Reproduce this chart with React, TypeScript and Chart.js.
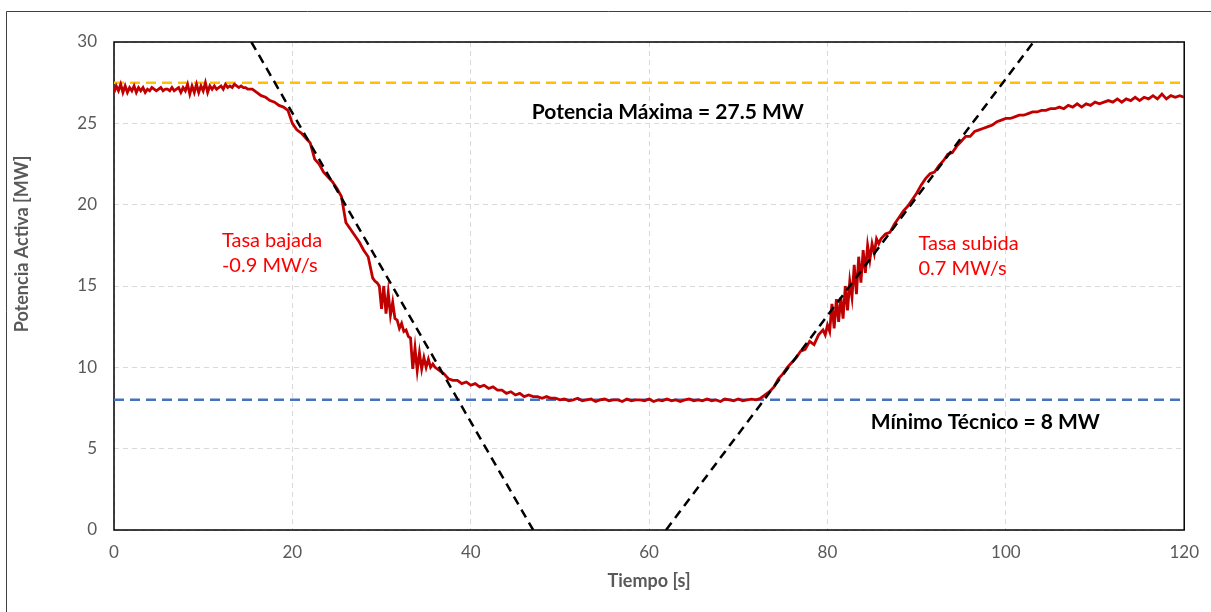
import React, { useEffect, useRef } from "react";
import { Chart, registerables } from "chart.js";

Chart.register(...registerables);

// ---- Data: active power [MW], in segments of uniform sampling ----
// Each segment: start time [s], sampling step [s], values [MW]
const SEG_START_NOISE = {
  start: 0,
  step: 0.25,
  values: [
    26.9, 27.3, 27.0, 27.4, 26.9, 27.3, 26.9, 27.2, 27.0, 27.3, 26.9, 27.2, // 0-2.75
    27.0, 27.2, 26.9, 27.1, 27.0, 27.2, 27.1, 27.0, 27.1, 27.2, 27.0, 27.1, // 3-5.75
    27.1, 27.0, 27.2, 27.0, 27.1, 27.2, 26.9, 27.2, 27.0, 27.4, 26.8, 27.3, // 6-8.75
    26.9, 27.4, 26.9, 27.3, 27.0, 27.5, 26.9, 27.3, 27.1, 27.3, 27.1, 27.2, // 9-11.75
    27.3, 27.1, 27.4, 27.2, 27.3, 27.2, 27.4, 27.3, 27.2, 27.3, 27.2, 27.2, // 12-14.75
  ],
};
const SEG_RAMP_DOWN = {
  start: 15,
  step: 0.5,
  values: [
    27.1, 27.1, 26.9, 26.7, 26.6, 26.4, 26.3, 26.1, 26.0, 25.8, // 15-19.5
    25.0, 24.6, 24.4, 24.1, 23.8, 22.8, 22.5, 22.0, 21.7, 21.4, // 20-24.5
    21.0, 20.5, 18.9, 18.5, 18.1, 17.7, 17.2, 16.8, 15.5, // 25-29
  ],
};
const SEG_DOWN_OSC = {
  start: 29.25,
  step: 0.25,
  values: [
    15.3, 15.2, 15.0, 13.6, 15.0, 13.3, 14.6, 13.2, 14.0, 13.0, 12.9, 12.4, // 29.25-32
    12.7, 12.2, 12.3, 11.9, 11.8, 9.9, 11.2, 9.8, 10.9, 9.9, 10.6, 10.0, // 32.25-35
    10.5, 10.0, 10.2, // 35.25-35.75
  ],
};
const SEG_VALLEY = {
  start: 36,
  step: 0.5,
  values: [
    10.0, 9.8, 9.6, 9.3, 9.2, 9.2, 9.0, 9.1, // 36-39.5
    8.9, 9.0, 8.8, 8.9, 8.7, 8.8, 8.6, 8.6, 8.4, 8.5, // 40-44.5
    8.3, 8.4, 8.2, 8.3, 8.2, 8.2, 8.1, 8.2, 8.1, 8.1, // 45-49.5
    8.0, 8.05, 7.95, 8.0, 8.1, 7.95, 8.0, 8.05, 7.9, 8.0, // 50-54.5
    8.05, 7.95, 8.0, 8.0, 7.9, 8.05, 7.95, 8.0, 8.0, 7.95, // 55-59.5
    8.05, 7.9, 8.0, 7.95, 8.05, 7.95, 8.0, 7.9, 8.0, 8.05, // 60-64.5
    7.95, 8.0, 7.95, 8.05, 7.95, 8.0, 7.9, 8.05, 8.0, 7.95, // 65-69.5
    8.05, 7.95, 8.0, 8.05, 8.0, 8.1, 8.3, 8.5, 8.8, 9.3, // 70-74.5
    9.6, 10.0, 10.3, 10.6, 11.0, 11.1, 11.6, 11.4, 12.0, 12.3, // 75-79.5
  ],
};
const SEG_UP_OSC = {
  start: 79.75,
  step: 0.25,
  values: [
    12.0, 12.6, 12.2, 13.9, 12.4, 14.2, 12.8, 14.3, 13.0, 15.0, 13.5, 15.3, // 79.75-82.5
    14.3, 16.3, 14.5, 16.8, 15.2, 17.2, 15.8, 17.5, 16.6, 17.6, 17.0, 17.9, // 82.75-85.5
    17.6, 17.9, // 85.75-86
  ],
};
const SEG_RECOVERY = {
  start: 86.5,
  step: 0.5,
  values: [
    18.2, 18.3, 18.8, 19.2, 19.6, 19.9, 20.3, // 86.5-89.5
    20.7, 21.2, 21.6, 21.9, 22.0, 22.4, 22.7, 23.1, 23.2, 23.6, // 90-94.5
    23.9, 24.2, 24.2, 24.5, 24.6, 24.7, 24.8, 24.9, 25.1, 25.2, // 95-99.5
    25.3, 25.3, 25.4, 25.5, 25.5, 25.6, 25.7, 25.7, 25.8, 25.8, // 100-104.5
    25.9, 25.9, 26.0, 25.9, 26.1, 26.0, 26.2, 26.0, 26.2, 26.1, // 105-109.5
    26.3, 26.2, 26.3, 26.4, 26.3, 26.5, 26.3, 26.5, 26.4, 26.6, // 110-114.5
    26.4, 26.6, 26.5, 26.7, 26.5, 26.8, 26.5, 26.7, 26.6, 26.7, // 115-119.5
    26.6, // 120
  ],
};
const POWER_SEGMENTS = [SEG_START_NOISE, SEG_RAMP_DOWN, SEG_DOWN_OSC, SEG_VALLEY, SEG_UP_OSC, SEG_RECOVERY];

const MAX_POWER = 27.5;
const MIN_TECH = 8;
const RANGE_X = [0, 120];

// Ramp reference lines (two end points each)
const RAMP_DOWN_X = [15.4, 47.0];
const RAMP_DOWN_Y = [30, 0];
const RAMP_UP_X = [61.9, 103.1];
const RAMP_UP_Y = [0, 30];

const X_MIN = 0, X_MAX = 120, X_STEP = 20;
const Y_MIN = 0, Y_MAX = 30, Y_STEP = 5;

const X_TITLE = "Tiempo [s]";
const Y_TITLE = "Potencia Activa [MW]";

// Annotation texts anchored in data coordinates
const LABEL_MAX = { text: ["Potencia Máxima = 27.5 MW"], x: 62.1, y: 25.7 };
const LABEL_MIN = { text: ["Mínimo Técnico = 8 MW"], x: 97.7, y: 6.6 };
const LABEL_DOWN = { text: ["Tasa bajada", "-0.9 MW/s"], x: 12.1, y: 17.8 };
const LABEL_UP = { text: ["Tasa subida", "0.7 MW/s"], x: 90.2, y: 17.6 };

const FONT = "Lato, 'Open Sans', sans-serif";

export default function App() {
  const ref = useRef<HTMLCanvasElement | null>(null);

  useEffect(() => {
    const canvas = ref.current;
    if (!canvas) return;

    const powerPts: { x: number; y: number }[] = [];
    POWER_SEGMENTS.forEach((seg) =>
      seg.values.forEach((v, i) => powerPts.push({ x: seg.start + i * seg.step, y: v }))
    );
    const maxPts = RANGE_X.map((x) => ({ x, y: MAX_POWER }));
    const minPts = RANGE_X.map((x) => ({ x, y: MIN_TECH }));
    const downPts = RAMP_DOWN_X.map((x, i) => ({ x, y: RAMP_DOWN_Y[i] }));
    const upPts = RAMP_UP_X.map((x, i) => ({ x, y: RAMP_UP_Y[i] }));

    const framePlugin = {
      id: "frame",
      beforeDraw(chart: any) {
        const ctx = chart.ctx;
        ctx.save();
        ctx.strokeStyle = "#3f3f3f";
        ctx.lineWidth = 1;
        ctx.beginPath();
        ctx.moveTo(6.5, 612);
        ctx.lineTo(6.5, 11.5);
        ctx.lineTo(1211, 11.5);
        ctx.stroke();
        ctx.restore();
      },
      beforeDatasetsDraw(chart: any) {
        const { ctx, chartArea: a } = chart;
        ctx.save();
        ctx.strokeStyle = "#000000";
        ctx.lineWidth = 1.5;
        ctx.strokeRect(a.left, a.top, a.right - a.left, a.bottom - a.top);
        ctx.restore();
      },
      afterDraw(chart: any) {
        const { ctx, chartArea: a, scales } = chart;
        const xs = scales.x, ys = scales.y;
        ctx.save();
        // axis titles
        ctx.fillStyle = "#595959";
        ctx.font = `bold 18px ${FONT}`;
        ctx.textAlign = "center";
        ctx.textBaseline = "middle";
        ctx.fillText(X_TITLE, (a.left + a.right) / 2, 581);
        ctx.save();
        ctx.translate(22, 244);
        ctx.rotate(-Math.PI / 2);
        ctx.fillText(Y_TITLE, 0, 0);
        ctx.restore();

        const draw = (lbl: any, font: string, color: string, align: CanvasTextAlign, lh: number) => {
          ctx.font = font;
          ctx.fillStyle = color;
          ctx.textAlign = align;
          ctx.textBaseline = "middle";
          const px = xs.getPixelForValue(lbl.x);
          const py = ys.getPixelForValue(lbl.y);
          lbl.text.forEach((t: string, i: number) => ctx.fillText(t, px, py + i * lh));
        };
        draw(LABEL_MAX, `bold 21px ${FONT}`, "#000000", "center", 25);
        draw(LABEL_MIN, `bold 21px ${FONT}`, "#000000", "center", 25);
        draw(LABEL_DOWN, `20px ${FONT}`, "#FF0000", "left", 25);
        draw(LABEL_UP, `20px ${FONT}`, "#FF0000", "left", 25);
        ctx.restore();
      },
    };

    const chart = new Chart(canvas, {
      type: "line",
      data: {
        datasets: [
          {
            label: "Rampa bajada",
            data: downPts,
            borderColor: "#000000",
            borderWidth: 2.5,
            borderDash: [9, 6],
            pointRadius: 0,
            tension: 0,
          },
          {
            label: "Rampa subida",
            data: upPts,
            borderColor: "#000000",
            borderWidth: 2.5,
            borderDash: [9, 6],
            pointRadius: 0,
            tension: 0,
          },
          {
            label: "Potencia",
            data: powerPts,
            borderColor: "#C00000",
            borderWidth: 2.8,
            pointRadius: 0,
            tension: 0,
          },
          {
            label: "Potencia Máxima",
            data: maxPts,
            borderColor: "#FFC000",
            borderWidth: 2.5,
            borderDash: [10, 6],
            pointRadius: 0,
          },
          {
            label: "Mínimo Técnico",
            data: minPts,
            borderColor: "#4472C4",
            borderWidth: 2.5,
            borderDash: [10, 6],
            pointRadius: 0,
          },
        ],
      },
      options: {
        animation: false,
        responsive: false,
        devicePixelRatio: 1,
        parsing: false as any,
        layout: { padding: { left: 0, top: 42, right: 23, bottom: 0 } },
        plugins: {
          legend: { display: false },
          tooltip: { enabled: false },
        },
        scales: {
          x: {
            type: "linear",
            min: X_MIN,
            max: X_MAX,
            ticks: {
              stepSize: X_STEP,
              color: "#595959",
              font: { family: FONT, size: 17 },
              padding: 12,
              maxRotation: 0,
            },
            grid: { color: "#D9D9D9", lineWidth: 1, drawTicks: false },
            border: { display: false, dash: [5, 4] },
            afterFit: (s: any) => {
              s.height = 82;
            },
          },
          y: {
            type: "linear",
            min: Y_MIN,
            max: Y_MAX,
            ticks: {
              stepSize: Y_STEP,
              color: "#595959",
              font: { family: FONT, size: 17 },
              padding: 17,
            },
            grid: { color: "#D9D9D9", lineWidth: 1, drawTicks: false },
            border: { display: false, dash: [5, 4] },
            afterFit: (s: any) => {
              s.width = 114;
            },
          },
        },
      },
      plugins: [framePlugin],
    });

    return () => chart.destroy();
  }, []);

  return (
    <div style={{ position: "absolute", left: 0, top: 0, width: 1211, height: 612, background: "#fff" }}>
      <canvas ref={ref} width={1211} height={612} />
    </div>
  );
}
